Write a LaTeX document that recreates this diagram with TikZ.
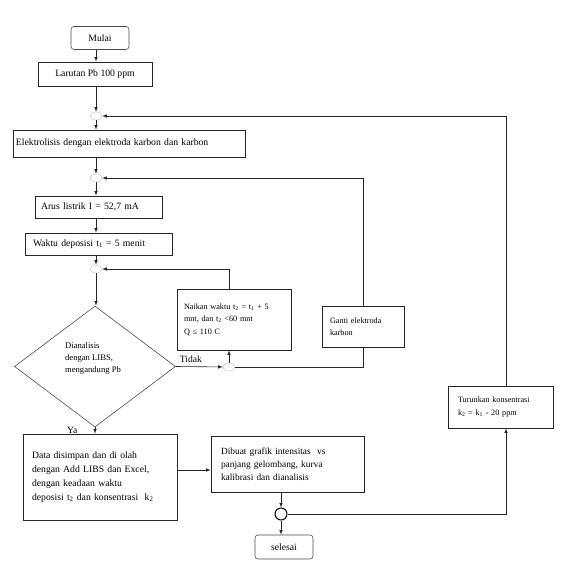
\documentclass[tikz,border=0pt]{standalone}
\usepackage{fontspec}
\setmainfont{Liberation Serif}
\usepackage{tikz}
\usetikzlibrary{arrows,calc,shapes.geometric}

\tikzset{
  proc/.style={draw=black!85, line width=0.6pt, align=left, inner ysep=2pt},
  term/.style={draw=black!70, line width=0.6pt, rounded corners=3pt},
  junc/.style={ellipse, draw=black!25, minimum width=12pt, minimum height=8pt, inner sep=0pt},
  flow/.style={draw=black!85, line width=0.6pt},
  fnorm/.style={font=\fontsize{9.7}{14}\selectfont},
  fsmall/.style={font=\fontsize{8.2}{12.5}\selectfont},
}

\begin{document}
\begin{tikzpicture}[x=1pt,y=-1pt,>=latex]
\useasboundingbox (0,0) rectangle (577,575);

\node[term,fnorm,minimum width=58pt,minimum height=23pt] (mulai) at (100,38) {Mulai};
\node[proc,fnorm,minimum width=114pt,minimum height=24pt] (larutan) at (95,74) {Larutan Pb 100 ppm};
\node[junc] (j1) at (96,116) {};
\node[proc,fnorm,inner xsep=3pt,text width=226pt,minimum height=27pt] (elektro) at (129,143.5)
  {Elektrolisis dengan elektroda karbon dan karbon};
\node[junc] (j2) at (96,178) {};
\node[proc,fnorm,inner xsep=6pt,text width=115pt,minimum height=22pt] (arus) at (98.5,207)
  {Arus listrik I = 52,7 mA};
\node[proc,fnorm,inner xsep=8pt,text width=131pt,minimum height=22pt] (waktu) at (98.5,244)
  {Waktu deposisi t\textsubscript{1} = 5 menit};
\node[junc] (j3) at (96,269) {};

\node[diamond,draw=black!70,line width=0.6pt,minimum width=161pt,minimum height=121pt,inner sep=0pt] (cek) at (95,366.5) {};
\node[align=left,font=\fontsize{8.6}{12}\selectfont] (cektext) at (93,358)
  {Dianalisis\\dengan LIBS,\\mengandung Pb};

\node[junc] (j4) at (229,367) {};
\node[proc,fsmall,inner xsep=7pt,text width=100pt,minimum height=61pt] (naik) at (234,319.5)
  {Naikan waktu t\textsubscript{2} = t\textsubscript{1} + 5\\mnt, dan t\textsubscript{2} <60 mnt\\Q ≤ 110 C\\[6pt]};
\node[proc,fsmall,inner xsep=8pt,text width=66pt,minimum height=41pt] (ganti) at (363,326.5)
  {Ganti elektroda\\karbon\\[3pt]};

\node[proc,fnorm,inner xsep=9pt,text width=136pt,minimum height=86pt] (data) at (100,477)
  {Data disimpan dan di olah\\dengan Add LIBS dan Excel,\\dengan keadaan waktu\\deposisi t\textsubscript{2} dan konsentrasi~ k\textsubscript{2}\\[4pt]};
\node[proc,font=\fontsize{9.4}{13}\selectfont,inner xsep=10pt,text width=133pt,minimum height=56pt] (dibuat) at (287.5,464)
  {Dibuat grafik intensitas~ vs\\panjang gelombang, kurva\\kalibrasi dan dianalisis};
\node[circle,draw=black,line width=1pt,minimum size=12pt,inner sep=0pt] (j5) at (281,514) {};
\node[term,fnorm,minimum width=58pt,minimum height=24pt] (selesai) at (284,547) {selesai};
\node[proc,fsmall,inner xsep=10pt,text width=85pt,minimum height=42pt] (turun) at (500.5,407)
  {Turunkan konsentrasi\\k\textsubscript{2} = k\textsubscript{1} - 20 ppm\\[2pt]};
\coordinate (rt) at (506,116);

\draw[flow,->] (mulai.south -| j1) -- (larutan.north -| j1);
\draw[flow,->] (larutan.south -| j1) -- (j1);
\draw[flow,->] (j1) -- (elektro.north -| j1);
\draw[flow,->] (elektro.south -| j2) -- (j2);
\draw[flow,->] (j2) -- (arus.north -| j2);
\draw[flow,->] (arus.south -| j2) -- (waktu.north -| j2);
\draw[flow,->] (waktu.south -| j3) -- (j3);
\draw[flow,->] (j3) -- (cek.north -| j3);
\draw[flow,->] (cek.east) -- node[above,pos=0.32,font=\fontsize{9.6}{12}\selectfont] {Tidak} (j4);
\draw[flow,->] (j4) -- (naik.south -| j4);
\draw[flow,->] (naik.north -| j4) |- (j3);
\draw[flow] (j4) -| (ganti.south);
\draw[flow,->] (ganti.north) |- (j2);
\draw[flow,->] (cek.south) -- node[left=14pt,font=\fontsize{9.6}{12}\selectfont] {Ya} (data.north -| cek.south);
\draw[flow,->] ($(data.east)+(0,-7)$) -- ($(data.east -| dibuat.west)+(0,-7)$);
\draw[flow,->] (dibuat.south -| j5) -- (j5);
\draw[flow,->] (j5) -- (selesai.north -| j5);
\draw[flow,->] (j5) -| (turun.south -| rt);
\draw[flow,->] (turun.north -| rt) -- (rt) -- (j1);
\end{tikzpicture}
\end{document}
